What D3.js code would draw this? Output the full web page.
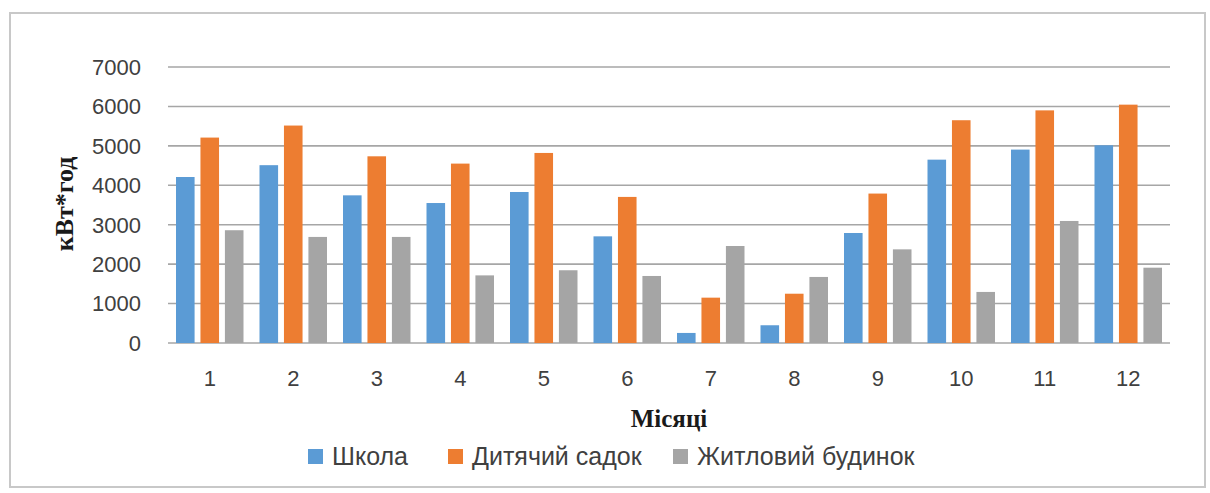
<!DOCTYPE html>
<html>
<head>
<meta charset="utf-8">
<script src="https://cdn.jsdelivr.net/npm/d3@7"></script>
<style>
  body { margin: 0; background: #fff; }
  svg { display: block; }
</style>
</head>
<body>
<svg id="chart" width="1210" height="493"></svg>
<script>
// months and series
var months = ["1","2","3","4","5","6","7","8","9","10","11","12"];
var seriesNames = ["Школа", "Дитячий садок", "Житловий будинок"];
var shkola = [4210, 4510, 3745, 3550, 3830, 2705, 255, 450, 2790, 4650, 4905, 5015];
var sadok  = [5210, 5515, 4735, 4550, 4820, 3705, 1150, 1250, 3790, 5650, 5900, 6045];
var budynok = [2860, 2690, 2690, 1715, 1845, 1700, 2460, 1675, 2375, 1295, 3095, 1910];
var yTicks = [0, 1000, 2000, 3000, 4000, 5000, 6000, 7000];

var colors = ['#5B9BD5', '#ED7D31', '#A5A5A5'];

var svg = d3.select("#chart");

// outer frame
svg.append("rect")
  .attr("x", 10).attr("y", 13)
  .attr("width", 1195).attr("height", 474)
  .attr("fill", "#fff")
  .attr("stroke", "#c8c8c8")
  .attr("stroke-width", 2);

var plotLeft = 168, plotRight = 1170, plotTop = 67, plotBottom = 343;

var x = d3.scaleBand().domain(months).range([plotLeft, plotRight]);
var x1 = d3.scaleBand().domain(seriesNames).range([8, x.bandwidth() - 8]).paddingInner(0.24);
var y = d3.scaleLinear().domain([0, 7000]).range([plotBottom, plotTop]);

var table = months.map(function(m, i) {
  return { month: m, values: [shkola[i], sadok[i], budynok[i]] };
});

var sans = "Liberation Sans, Arial, sans-serif";
var serif = "Liberation Serif, Times New Roman, serif";

// grid
var g = svg.append("g");
g.selectAll("line.grid")
  .data(yTicks)
  .join("line")
  .attr("class", "grid")
  .attr("x1", plotLeft).attr("x2", plotRight)
  .attr("y1", d => y(d)).attr("y2", d => y(d))
  .attr("stroke", "#a6a6a6")
  .attr("stroke-width", 1.6);

// y tick labels
g.selectAll("text.ytick")
  .data(yTicks)
  .join("text")
  .attr("class", "ytick")
  .attr("x", 141)
  .attr("y", d => y(d))
  .attr("dy", "0.36em")
  .attr("text-anchor", "end")
  .attr("font-family", sans)
  .attr("font-size", 22)
  .attr("fill", "#404040")
  .text(d => d);

// bars
var groups = g.selectAll("g.month")
  .data(table)
  .join("g")
  .attr("class", "month")
  .attr("transform", d => "translate(" + x(d.month) + ",0)");

groups.selectAll("rect")
  .data(d => d.values.map((v, j) => ({ name: seriesNames[j], value: v, c: colors[j] })))
  .join("rect")
  .attr("x", d => x1(d.name))
  .attr("width", x1.bandwidth())
  .attr("y", d => y(d.value))
  .attr("height", d => y(0) - y(d.value))
  .attr("fill", d => d.c);

// x tick labels
g.selectAll("text.xtick")
  .data(months)
  .join("text")
  .attr("class", "xtick")
  .attr("x", d => x(d) + x.bandwidth() / 2)
  .attr("y", 378)
  .attr("dy", "0.36em")
  .attr("text-anchor", "middle")
  .attr("font-family", sans)
  .attr("font-size", 22)
  .attr("fill", "#404040")
  .text(d => d);

// axis titles
svg.append("text")
  .attr("x", (plotLeft + plotRight) / 2)
  .attr("y", 418)
  .attr("dy", "0.35em")
  .attr("text-anchor", "middle")
  .attr("font-family", serif)
  .attr("font-weight", "bold")
  .attr("font-size", 25)
  .attr("fill", "#1a1a1a")
  .text("Місяці");

svg.append("text")
  .attr("transform", "translate(64,204) rotate(-90)")
  .attr("dy", "0.35em")
  .attr("text-anchor", "middle")
  .attr("font-family", serif)
  .attr("font-weight", "bold")
  .attr("font-size", 26)
  .attr("fill", "#1a1a1a")
  .text("кВт*год");

// legend
var legendX = [308, 448, 673];
var leg = svg.append("g").selectAll("g")
  .data(seriesNames)
  .join("g")
  .attr("transform", (d, i) => "translate(" + legendX[i] + ",456)");
leg.append("rect")
  .attr("x", 0).attr("y", -7)
  .attr("width", 15).attr("height", 15)
  .attr("fill", (d, i) => colors[i]);
leg.append("text")
  .attr("x", 24)
  .attr("dy", "0.35em")
  .attr("font-family", sans)
  .attr("font-size", 25)
  .attr("fill", "#404040")
  .text(d => d);
</script>
</body>
</html>
